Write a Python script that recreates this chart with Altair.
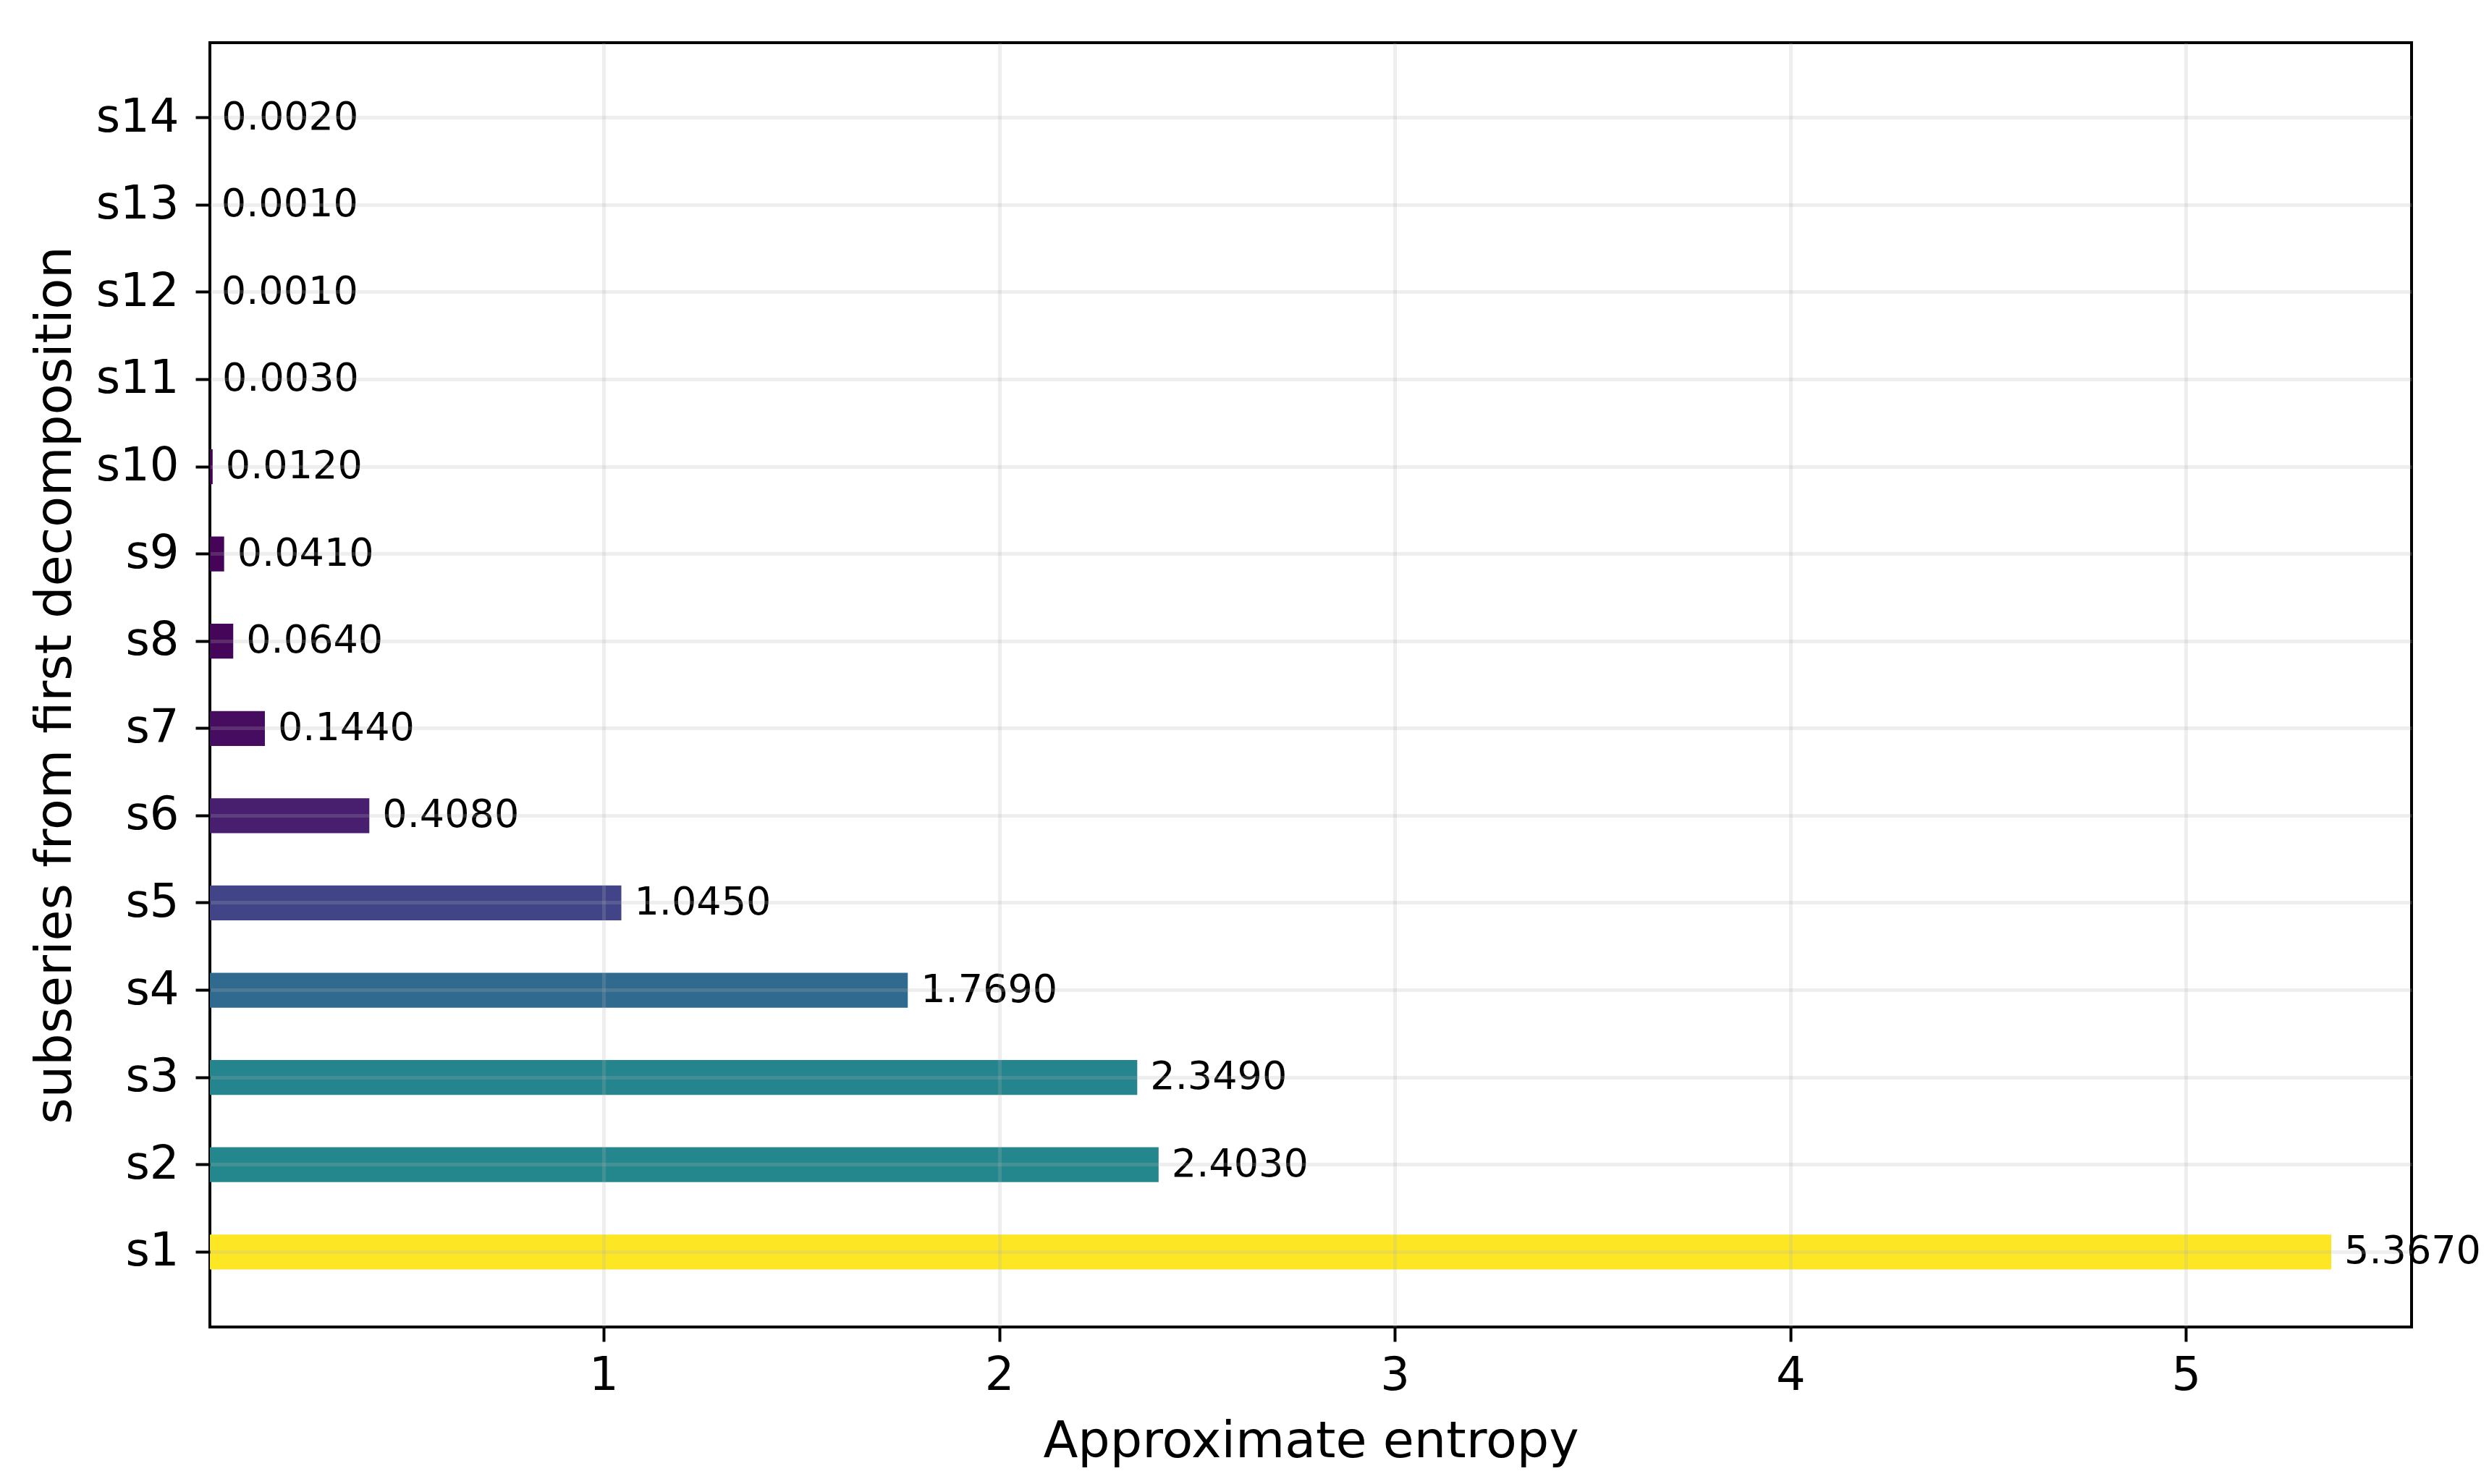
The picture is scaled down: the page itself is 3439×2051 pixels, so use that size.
import altair as alt
import pandas as pd

# Data
categories = ["s1", "s2", "s3", "s4", "s5", "s6", "s7", "s8", "s9", "s10", "s11", "s12", "s13", "s14"]
values = [5.367, 2.403, 2.349, 1.769, 1.045, 0.408, 0.144, 0.064, 0.041, 0.012, 0.003, 0.001, 0.001, 0.002]
x_ticks = [1, 2, 3, 4, 5]

df = pd.DataFrame({"series": categories, "value": values})
order = categories[::-1]  # s14 at top, s1 at bottom

FONT = "DejaVu Sans"
W, H = 3042, 1775

x_enc = alt.X(
    "value:Q",
    scale=alt.Scale(domain=[0.005, 5.57], nice=False, zero=False),
    axis=alt.Axis(
        values=x_ticks,
        format="d",
        title="Approximate entropy",
        titleX=W / 2,
        titleY=179,
        titleAlign="center",
        titleBaseline="alphabetic",
        labelBaseline="alphabetic",
        labelPadding=66,
        grid=True,
        zindex=1,
    ),
)
y_enc = alt.Y(
    "series:N",
    sort=order,
    scale=alt.Scale(paddingInner=0.6, paddingOuter=0.66),
    axis=alt.Axis(
        title="subseries from first decomposition",
        titleX=-193,
        titleY=H / 2,
        titleAngle=270,
        titleAlign="center",
        titleBaseline="alphabetic",
        labelPadding=23,
        bandPosition=0.5,
        grid=True,
        zindex=1,
    ),
)

bars = alt.Chart(df).mark_bar(opacity=1, clip=True).encode(
    x=x_enc,
    y=y_enc,
    color=alt.Color(
        "value:Q",
        scale=alt.Scale(scheme="viridis", domain=[0, 5.2], clamp=True),
        legend=None,
    ),
)

labels = alt.Chart(df).mark_text(
    align="left", baseline="middle", dx=18, fontSize=54, font=FONT, color="black"
).encode(
    x="value:Q",
    y=alt.Y("series:N", sort=order),
    text=alt.Text("value:Q", format=".4f"),
)

chart = (
    alt.layer(bars, labels)
    .properties(
        width=W,
        height=H,
        autosize=alt.AutoSizeParams(type="none"),
        padding={"left": 282, "top": 51, "right": 95, "bottom": 200},
        background="white",
    )
    .configure_view(stroke="black", strokeWidth=4)
    .configure_axis(
        domain=False,
        labelFont=FONT,
        labelFontSize=64,
        labelColor="black",
        titleFont=FONT,
        titleFontSize=70,
        titleFontWeight="normal",
        titleColor="black",
        tickColor="black",
        tickWidth=4,
        tickSize=20,
        gridColor="#b0b0b0",
        gridOpacity=0.22,
        gridWidth=5,
    )
)

chart.save("out.html", embed_options={"renderer": "svg", "actions": False})
